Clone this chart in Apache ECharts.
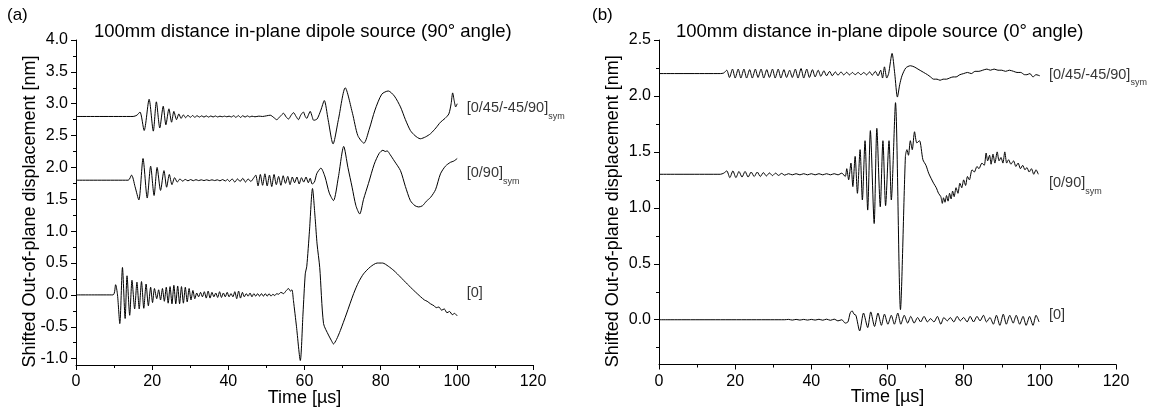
<!DOCTYPE html>
<html><head><meta charset="utf-8">
<script src="https://cdn.jsdelivr.net/npm/echarts@6/dist/echarts.min.js"></script>
<style>html,body{margin:0;padding:0;background:#fff}#c{width:1158px;height:411px}</style>
</head><body><div id="c"></div><script>
// ---------- tick labels ----------
const xRange = [0, 120];
const leftYRange = [-1.1, 4.0];
const rightYRange = [-0.4, 2.5];
const leftYMajor = [-1.0,-0.5,0.0,0.5,1.0,1.5,2.0,2.5,3.0,3.5,4.0];
const leftYMinor = [-0.75,-0.25,0.25,0.75,1.25,1.75,2.25,2.75,3.25,3.75];
const rightYMajor = [0.0,0.5,1.0,1.5,2.0,2.5];
const rightYMinor = [-0.25,0.25,0.75,1.25,1.75,2.25];

// ---------- titles / labels ----------
const panelTags = ['(a)', '(b)'];
const panelTitles = ['100mm distance in-plane dipole source (90° angle)', '100mm distance in-plane dipole source (0° angle)'];
const seriesNames = ['[0/45/-45/90]', '[0/90]', '[0]'];
const seriesSubs = ['sym', 'sym', ''];
const leftOffsets = [2.8, 1.8, 0.0];
const rightOffsets = [2.2, 1.3, 0.0];
const leftLabelPos = [[102.6, 2.93], [102.6, 1.91], [102.6, 0.03]];
const rightLabelPos = [[102.4, 2.19], [102.4, 1.22], [102.4, 0.04]];

// ---------- (a) 90° angle: [time µs, raw displacement nm] ----------
const leftQuasi = [[0,0],[15,0],[16.0,0.02],[16.8,0.07],[17.9,-0.22],[19.2,0.27],[20.3,-0.23],[21.1,0.23],[22.0,-0.18],[22.9,0.16],[23.6,-0.13],[24.4,0.12],[25.1,-0.09],[25.7,0.08],[26.4,-0.05],[27.0,0.04],[27.6,-0.03],[28.2,0.025],[28.8,-0.02],[29.4,0.02],[30.0,-0.015],[30.6,0.015],[31.2,-0.012],[31.8,0.012],[32.4,-0.01],[33.0,0.01],[33.6,-0.01],[34.2,0.01],[34.8,-0.01],[35.4,0.008],[36.0,-0.008],[36.6,0.008],[37.2,-0.008],[37.8,0.005],[38.4,-0.005],[39.0,0.005],[39.6,-0.005],[40.2,0.005],[40.8,-0.008],[41.4,0.012],[42.0,-0.015],[42.6,0.015],[43.2,-0.015],[43.8,0.012],[44.4,-0.01],[45.0,0.01],[45.6,-0.008],[46.2,0.005],[47.0,-0.005],[48.0,0.005],[49.0,0],[50.0,0.01],[51.0,0.02],[52.0,-0.02],[52.7,-0.05],[53.6,0.0],[54.5,0.05],[55.2,-0.01],[55.8,-0.04],[56.5,0.02],[57.1,0.06],[57.8,0.0],[58.4,-0.05],[59.0,0.02],[59.7,0.07],[60.2,0.0],[60.6,-0.03],[61.0,0.02],[61.5,0.08],[62.0,0.0],[62.4,-0.06],[63.3,-0.04],[64.3,0.1],[65.2,0.25],[66.2,-0.05],[67.5,-0.43],[68.9,-0.05],[70.7,0.45],[72.6,0.05],[74.0,-0.3],[75.6,-0.42],[77.0,-0.2],[78.5,0.1],[80.3,0.35],[82.0,0.4],[83.6,0.32],[85.2,0.15],[86.5,-0.05],[87.8,-0.22],[89.0,-0.3],[90.4,-0.35],[91.8,-0.32],[93.1,-0.27],[94.5,-0.18],[95.7,-0.09],[96.9,-0.03],[97.9,0.04],[98.5,0.2],[98.9,0.37],[99.3,0.25],[99.7,0.15],[100.1,0.2]];
const leftCross = [[0,0],[13.7,0],[14.6,0.08],[15.5,-0.1],[16.5,-0.31],[17.6,0.34],[18.7,-0.28],[19.6,0.22],[20.5,-0.24],[21.3,0.2],[22.2,-0.16],[23.1,0.15],[23.8,-0.11],[24.5,0.09],[25.2,-0.07],[25.9,0.04],[26.6,-0.03],[27.3,0.02],[28.0,-0.015],[28.7,0.012],[29.4,-0.01],[30.1,0.01],[30.8,-0.008],[31.5,0.008],[32.2,-0.006],[32.9,0.006],[33.6,-0.006],[34.3,0.006],[35.0,-0.006],[35.7,0.006],[36.4,-0.006],[37.1,0.006],[37.8,-0.01],[38.5,0.01],[39.2,-0.012],[39.8,0.012],[40.3,-0.02],[41.0,0.02],[41.7,-0.03],[42.4,0.02],[43.1,-0.02],[43.8,0.03],[44.5,-0.03],[45.2,0.02],[45.9,-0.02],[46.6,0.03],[47.2,0.08],[47.8,-0.09],[48.4,0.09],[49.0,-0.08],[49.6,0.1],[50.2,-0.09],[50.8,0.08],[51.4,-0.1],[52.0,0.09],[52.6,-0.07],[53.2,0.06],[53.8,-0.08],[54.4,0.07],[55.0,-0.05],[55.6,0.06],[56.2,-0.07],[56.8,0.05],[57.4,-0.04],[58.0,0.05],[58.6,-0.06],[59.2,0.04],[59.8,-0.03],[60.4,0.05],[61.0,-0.04],[61.5,0.03],[62.0,-0.06],[62.6,-0.03],[63.2,0.1],[63.7,0.15],[64.3,0.19],[65.4,0.05],[66.5,-0.2],[67.6,-0.32],[68.9,0.05],[70.3,0.53],[71.4,0.2],[72.5,-0.11],[73.5,-0.4],[74.5,-0.53],[75.5,-0.3],[76.8,-0.05],[78.3,0.25],[79.6,0.42],[80.6,0.47],[81.2,0.45],[81.7,0.46],[82.5,0.4],[83.6,0.3],[85.2,0.15],[86.5,-0.1],[87.8,-0.32],[89.0,-0.4],[90.0,-0.42],[91.0,-0.4],[92.0,-0.33],[93.1,-0.27],[94.4,-0.15],[95.7,0.1],[97.0,0.22],[98.3,0.28],[99.2,0.3],[100.1,0.34]];
const leftUni = [[0,0],[9.7,0],[10.4,0.16],[10.9,0.0],[11.5,-0.45],[12.2,0.43],[12.9,-0.37],[13.4,0.3],[14.1,-0.32],[14.7,0.23],[15.4,-0.22],[16.0,0.2],[16.6,-0.22],[17.2,0.21],[17.8,-0.21],[18.4,0.17],[19.0,-0.17],[19.6,0.12],[20.1,-0.12],[20.6,0.1],[21.2,-0.06],[21.7,0.08],[22.2,-0.08],[22.7,0.1],[23.2,-0.1],[23.7,0.12],[24.2,-0.13],[24.7,0.13],[25.2,-0.14],[25.7,0.15],[26.2,-0.14],[26.7,0.14],[27.2,-0.14],[27.7,0.13],[28.2,-0.13],[28.7,0.12],[29.2,-0.11],[29.7,0.1],[30.2,-0.08],[30.7,0.07],[31.2,-0.06],[31.7,0.03],[32.2,-0.03],[32.7,0.04],[33.2,-0.03],[33.7,0.05],[34.2,-0.05],[34.7,0.06],[35.2,-0.05],[35.7,0.04],[36.2,-0.03],[36.7,0.03],[37.2,-0.04],[37.7,0.05],[38.2,-0.04],[38.7,0.03],[39.2,-0.03],[39.7,0.04],[40.2,-0.03],[40.7,0.02],[41.2,-0.03],[41.7,0.05],[42.2,-0.06],[42.7,0.06],[43.2,-0.05],[43.7,0.04],[44.2,-0.03],[44.7,0.02],[45.2,-0.02],[45.7,0.03],[46.2,-0.03],[46.7,0.02],[47.2,-0.02],[47.7,0.02],[48.2,-0.02],[48.7,0.02],[49.2,-0.02],[49.7,0.02],[50.2,-0.02],[50.7,0.02],[51.2,-0.02],[51.7,0.01],[52.2,-0.01],[52.7,0.02],[53.2,0.01],[53.8,0.04],[54.5,0.02],[55.1,0.06],[55.8,0.1],[56.3,0.06],[56.7,0.08],[57.1,-0.09],[57.9,-0.5],[58.9,-1.03],[59.6,-0.3],[60.2,0.33],[60.6,0.45],[61.3,1.0],[62.1,1.67],[62.8,1.2],[63.3,0.8],[64.0,0.43],[65.0,-0.45],[66.3,-0.63],[67.1,-0.72],[67.6,-0.77],[68.4,-0.7],[69.4,-0.56],[71.0,-0.3],[72.9,0.02],[74.2,0.2],[75.5,0.33],[77.3,0.44],[79.1,0.5],[80.5,0.5],[82.0,0.45],[83.5,0.38],[85.2,0.28],[87.0,0.17],[88.7,0.07],[90.5,-0.03],[91.5,-0.08],[92.2,-0.1],[93.1,-0.14],[94.0,-0.17],[94.6,-0.2],[95.3,-0.19],[96.0,-0.24],[96.7,-0.22],[97.4,-0.28],[98.1,-0.26],[98.8,-0.31],[99.4,-0.29],[100.1,-0.33]];

// ---------- (b) 0° angle ----------
const rightQuasi = [[0,0],[16.1,0],[17.0,0.005],[17.8,0.03],[18.5,-0.035],[19.3,0.04],[20.0,-0.04],[20.8,0.04],[21.5,-0.04],[22.3,0.04],[23.0,-0.04],[23.8,0.035],[24.5,-0.04],[25.3,0.04],[26.0,-0.035],[26.8,0.04],[27.5,-0.04],[28.3,0.035],[29.0,-0.035],[29.8,0.04],[30.5,-0.04],[31.3,0.04],[32.0,-0.04],[32.8,0.035],[33.5,-0.035],[34.3,0.03],[35.0,-0.035],[35.8,0.04],[36.5,-0.04],[37.3,0.045],[38.0,-0.04],[38.8,0.04],[39.5,-0.035],[40.3,0.035],[41.0,-0.03],[41.8,0.03],[42.5,-0.025],[43.3,0.025],[44.0,-0.02],[44.8,0.02],[45.5,-0.02],[46.3,0.015],[47.0,-0.015],[47.8,0.015],[48.5,-0.012],[49.3,0.012],[50.0,-0.012],[50.8,0.01],[51.5,-0.01],[52.3,0.01],[53.0,-0.01],[53.8,0.01],[54.5,-0.012],[55.3,0.015],[56.0,-0.015],[56.8,0.02],[57.5,-0.02],[58.2,0.03],[58.7,-0.04],[59.2,0.06],[59.8,-0.04],[60.3,0.0],[61.2,0.18],[61.9,0.0],[62.6,-0.21],[63.2,-0.1],[63.8,-0.02],[64.8,0.05],[66.0,0.07],[67.0,0.06],[68.0,0.04],[69.5,0.01],[70.5,-0.01],[71.3,-0.03],[72.1,-0.05],[73.0,-0.05],[73.8,-0.06],[74.6,-0.05],[75.5,-0.05],[76.3,-0.04],[77.2,-0.03],[78.0,-0.03],[79.0,-0.01],[80.0,0.0],[81.0,0.01],[82.0,0.0],[83.0,0.02],[84.0,0.02],[85.0,0.03],[86.1,0.04],[87.0,0.03],[88.0,0.04],[89.0,0.03],[90.0,0.03],[91.0,0.02],[92.0,0.03],[93.1,0.02],[94.0,0.01],[95.0,0.01],[96.0,-0.01],[96.6,-0.01],[97.4,0.0],[98.2,-0.03],[99.0,-0.01],[100.0,-0.02]];
const rightCross = [[0,0],[16.1,0],[17.0,0.01],[17.8,0.03],[18.6,-0.03],[19.4,0.03],[20.2,-0.03],[21.0,0.025],[21.8,-0.025],[22.6,0.025],[23.4,-0.025],[24.2,0.02],[25.0,-0.02],[25.8,0.02],[26.6,-0.02],[27.4,0.015],[28.2,-0.015],[29.0,0.012],[29.8,-0.012],[30.6,0.01],[31.4,-0.01],[32.2,0.008],[33.0,-0.008],[34.0,0.005],[35.0,-0.005],[36.0,0.005],[37.0,-0.005],[38.0,0.005],[39.0,-0.005],[40.0,0.005],[41.0,-0.005],[42.0,0.005],[43.0,-0.005],[44.0,0.005],[45.0,-0.005],[46.0,0.005],[47.0,-0.005],[48.0,0.01],[48.9,-0.02],[49.3,0.05],[49.8,-0.05],[50.4,0.1],[50.9,-0.11],[51.5,0.16],[52.1,-0.17],[52.8,0.22],[53.4,-0.23],[54.1,0.3],[54.8,-0.32],[55.5,0.39],[56.5,-0.44],[57.2,0.41],[58.1,-0.29],[58.8,0.3],[59.5,-0.28],[60.4,0.3],[61.0,-0.23],[62.1,0.64],[63.4,-1.21],[64.7,0.16],[65.1,0.22],[65.5,0.17],[66.0,0.3],[66.5,0.22],[67.1,0.38],[67.7,0.28],[68.4,0.3],[69.3,0.13],[70.1,0.08],[70.8,0.01],[71.5,-0.04],[72.1,-0.08],[72.8,-0.12],[73.4,-0.17],[74.0,-0.2],[74.4,-0.26],[74.7,-0.21],[75.1,-0.25],[75.5,-0.19],[75.9,-0.24],[76.3,-0.17],[76.7,-0.22],[77.1,-0.15],[77.5,-0.2],[78.0,-0.12],[78.5,-0.17],[79.0,-0.08],[79.5,-0.12],[80.0,-0.05],[80.5,-0.1],[81.0,-0.02],[81.5,-0.05],[82.2,0.04],[82.8,0.02],[83.5,0.07],[84.0,0.05],[84.8,0.1],[85.4,0.08],[85.9,0.19],[86.3,0.12],[86.8,0.17],[87.2,0.09],[87.7,0.18],[88.2,0.1],[88.8,0.2],[89.3,0.12],[89.8,0.15],[90.3,0.1],[90.8,0.2],[91.3,0.1],[91.8,0.13],[92.4,0.09],[93.1,0.12],[93.7,0.07],[94.3,0.1],[94.9,0.05],[95.5,0.08],[96.1,0.04],[96.6,0.06],[97.2,0.02],[97.8,0.05],[98.4,0.0],[99.0,0.04],[99.6,0.0]];
const rightUni = [[0,0],[33.0,0],[34.0,0.003],[35.0,-0.003],[36.0,0.003],[37.0,-0.003],[38.0,0.003],[39.0,-0.003],[40.0,0.003],[41.0,-0.003],[42.0,0.004],[43.0,-0.004],[44.0,0.005],[45.0,-0.005],[46.0,0.005],[47.0,-0.01],[48.0,0.0],[48.9,-0.03],[49.6,-0.02],[50.2,0.06],[50.7,0.08],[51.2,0.05],[51.7,0.04],[52.7,-0.1],[53.7,0.06],[54.8,-0.07],[55.6,0.07],[56.6,-0.06],[57.5,0.06],[58.4,-0.05],[59.2,0.05],[60.1,-0.04],[61.0,0.04],[61.8,-0.04],[62.7,0.06],[63.5,-0.04],[64.4,0.04],[65.3,-0.03],[66.1,0.03],[67.0,-0.03],[67.9,0.02],[68.7,-0.02],[69.6,0.03],[70.5,-0.02],[71.3,0.01],[72.2,-0.02],[73.1,0.03],[74.0,-0.04],[74.8,0.02],[75.7,-0.01],[76.5,0.02],[77.4,-0.02],[78.3,0.03],[79.1,-0.01],[80.0,0.02],[80.9,-0.02],[81.7,0.03],[82.6,-0.02],[83.5,0.03],[84.3,-0.01],[85.2,0.04],[86.0,-0.02],[86.9,0.02],[87.8,-0.04],[88.6,0.04],[89.5,-0.05],[90.4,0.05],[91.2,-0.04],[92.1,0.04],[93.0,-0.03],[93.8,0.04],[94.7,-0.04],[95.6,0.03],[96.4,-0.05],[97.3,0.03],[98.2,-0.05],[99.0,0.04],[99.8,-0.02]];

const leftRaw = [leftQuasi, leftCross, leftUni];
const rightRaw = [rightQuasi, rightCross, rightUni];

// ---------- build ----------
const FONT = 'Liberation Sans';
const BLACK = '#000';
const chart = echarts.init(document.getElementById('c'), null, {renderer: 'canvas'});

function xAxisOpt(gi) {
  return {
    type: 'value', gridIndex: gi, min: xRange[0], max: xRange[1], interval: 20,
    name: 'Time [µs]', nameLocation: 'middle', nameGap: 24, nameMoveOverlap: false,
    nameTextStyle: {fontFamily: FONT, fontSize: 18, color: BLACK},
    axisLine: {show: true, onZero: false, lineStyle: {color: BLACK, width: 1}},
    axisTick: {show: true, inside: false, length: 5, lineStyle: {color: BLACK}},
    minorTick: {show: true, splitNumber: 2, length: 3, lineStyle: {color: BLACK}},
    axisLabel: {fontFamily: FONT, fontSize: 16, color: BLACK, margin: 9},
    splitLine: {show: false}, minorSplitLine: {show: false}
  };
}
function yAxisOpts(gi, range, major, minor) {
  return [{
    type: 'value', gridIndex: gi, min: range[0], max: range[1], position: 'left',
    name: 'Shifted Out-of-plane displacement [nm]', nameLocation: 'middle', nameGap: 37, nameMoveOverlap: false,
    nameTextStyle: {fontFamily: FONT, fontSize: 18, color: BLACK, padding: [0, 18, 0, 0]},
    axisLine: {show: true, onZero: false, lineStyle: {color: BLACK, width: 1}},
    axisTick: {show: true, inside: false, length: 5, customValues: major, lineStyle: {color: BLACK}},
    axisLabel: {fontFamily: FONT, fontSize: 16, color: BLACK, margin: 8, customValues: major,
      formatter: v => v.toFixed(1)},
    splitLine: {show: false}
  }, {
    type: 'value', gridIndex: gi, min: range[0], max: range[1], position: 'left',
    axisLine: {show: false}, axisLabel: {show: false}, splitLine: {show: false},
    axisTick: {show: true, inside: false, length: 3, customValues: minor, lineStyle: {color: BLACK}}
  }];
}

const series = [];
function addPanel(gi, raws, offsets, labelPos) {
  raws.forEach((raw, i) => {
    series.push({
      type: 'line', xAxisIndex: gi, yAxisIndex: gi * 2, showSymbol: false, smooth: 0.25,
      lineStyle: {color: BLACK, width: 1}, silent: true,
      data: raw.map(p => [p[0], p[1] + offsets[i]])
    });
    series.push({
      type: 'scatter', xAxisIndex: gi, yAxisIndex: gi * 2, symbolSize: 0, silent: true,
      data: [labelPos[i]],
      label: {show: true, position: 'right', distance: 0,
        formatter: seriesSubs[i] ? '{m|' + seriesNames[i] + '}{s|' + seriesSubs[i] + '}' : '{m|' + seriesNames[i] + '}',
        rich: {
          m: {fontFamily: FONT, fontSize: 14.5, color: BLACK, verticalAlign: 'middle'},
          s: {fontFamily: FONT, fontSize: 9, color: BLACK, verticalAlign: 'bottom', padding: [16, 0, 0, 0]}
        }}
    });
  });
}
addPanel(0, leftRaw, leftOffsets, leftLabelPos);
addPanel(1, rightRaw, rightOffsets, rightLabelPos);

const tStyle = (fs) => ({fontFamily: FONT, fontSize: fs, fontWeight: 'normal', color: BLACK});
chart.setOption({
  animation: false,
  backgroundColor: '#fff',
  title: [
    {text: panelTags[0], left: 7, top: 7, padding: 0, textStyle: tStyle(17)},
    {text: panelTitles[0], left: 94, top: 22, padding: 0, textStyle: tStyle(18.5)},
    {text: panelTags[1], left: 592, top: 7, padding: 0, textStyle: tStyle(17)},
    {text: panelTitles[1], left: 676, top: 22, padding: 0, textStyle: tStyle(18.5)}
  ],
  grid: [
    {left: 76, top: 40, width: 457, height: 325, containLabel: false, outerBoundsMode: 'none'},
    {left: 659, top: 40, width: 457, height: 324.5, containLabel: false, outerBoundsMode: 'none'}
  ],
  xAxis: [xAxisOpt(0), xAxisOpt(1)],
  yAxis: [...yAxisOpts(0, leftYRange, leftYMajor, leftYMinor), ...yAxisOpts(1, rightYRange, rightYMajor, rightYMinor)],
  series: series
});
</script></body></html>
